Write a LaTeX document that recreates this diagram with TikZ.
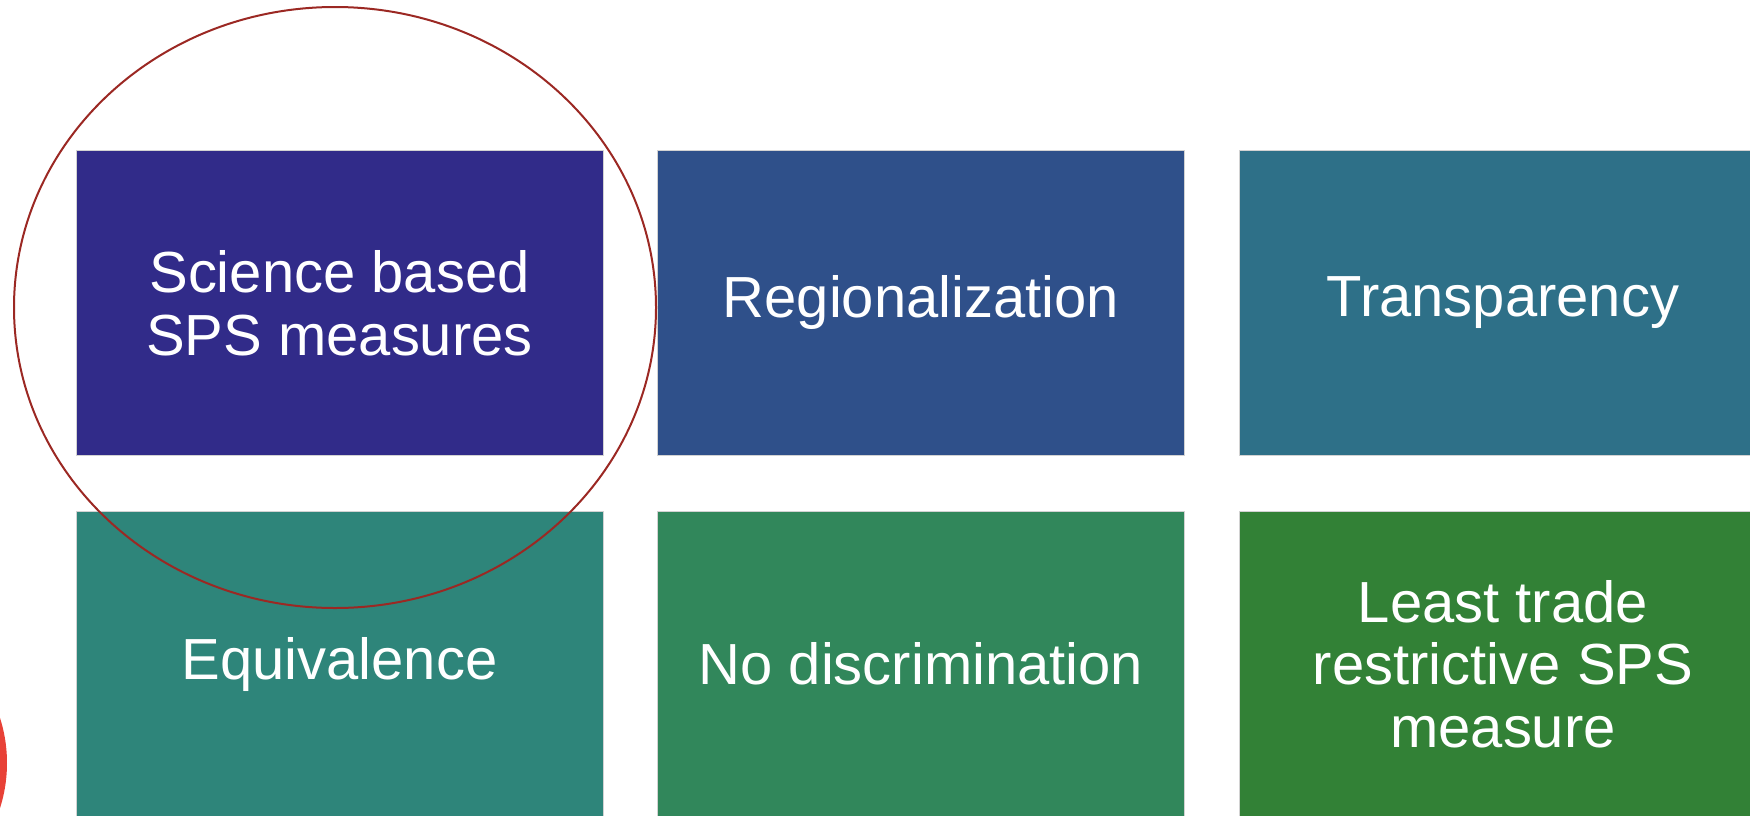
\documentclass[tikz,border=0pt]{standalone}
\usepackage{fontspec}
\setmainfont{Liberation Sans}
\usepackage{tikz}
\usetikzlibrary{positioning}

\definecolor{tileA}{RGB}{49,43,137}
\definecolor{tileB}{RGB}{47,80,138}
\definecolor{tileC}{RGB}{46,112,136}
\definecolor{tileD}{RGB}{46,133,122}
\definecolor{tileE}{RGB}{49,135,91}
\definecolor{tileF}{RGB}{50,129,54}
\definecolor{ringred}{RGB}{155,40,35}
\definecolor{dotred}{RGB}{232,65,55}

\begin{document}
\begin{tikzpicture}[x=0.02cm, y=-0.02cm]
	\tikzstyle{every node}=[font=\fontsize{33}{35.6}\selectfont]
	\tikzstyle{tile}=[rectangle, minimum width=10.54cm, minimum height=6.1cm, inner sep=0pt, text=white, align=center, draw=white!65!gray, line width=0.5pt]
	
	\useasboundingbox (0,0) rectangle (1750,815);
	\clip (0,0) rectangle (1750,815);
	
	\fill[dotred] (-141,763) circle [radius=148];
	
	\node[tile, fill=tileA] (science) at (339.5,303)  {Science based\\SPS measures};
	\node[tile, fill=tileB] (region)  at (921,303)    {Regionalization};
	\node[tile, fill=tileC] (transp)  at (1503,303)   {Transparency};
	\node[tile, fill=tileD] (equiv)   at (339.5,664)  {Equivalence};
	\node[tile, fill=tileE] (nodisc)  at (921,664)    {No discrimination};
	\node[tile, fill=tileF] (least)   at (1503,664)   {Least trade\\restrictive SPS\\measure};
	
	% ring round the first principle
	\draw[ringred, line width=0.04cm] (335,307.5) ellipse [x radius=321, y radius=300.5];
\end{tikzpicture}
\end{document}
